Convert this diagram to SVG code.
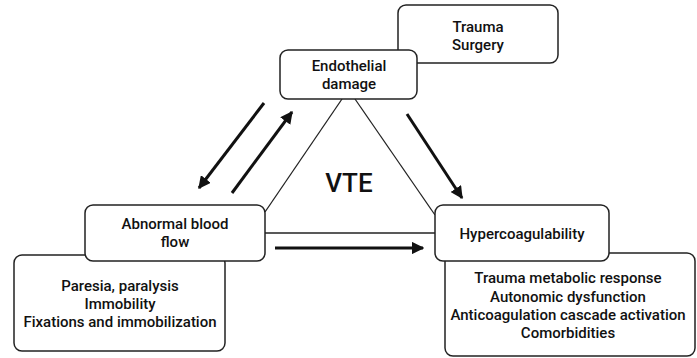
<svg xmlns="http://www.w3.org/2000/svg" width="697" height="358" viewBox="0 0 697 358">
  <defs>
    <marker id="head" viewBox="0 0 10 10" refX="9" refY="5" markerWidth="4.2" markerHeight="4.2" orient="auto" markerUnits="strokeWidth">
      <path d="M0,0 L10,5 L0,10 z" fill="#111"/>
    </marker>
    <style>
      .box { fill: #fff; stroke: #222; stroke-width: 1.5; }
      .edge { stroke: #222; stroke-width: 1.3; fill: none; }
      .arrow { stroke: #111; stroke-width: 3; fill: none; marker-end: url(#head); }
      .lbl { font-family: Roboto, "Liberation Sans", Arial, sans-serif; font-weight: 500; font-size: 15px; fill: #111; text-anchor: middle; }
      .big { font-family: Roboto, "Liberation Sans", Arial, sans-serif; font-weight: 500; font-size: 26px; fill: #111; text-anchor: middle; }
    </style>
  </defs>
  <rect width="697" height="358" fill="#fff"/>

  <!-- triangle edges and causal arrows -->
  <g id="connectors">
    <line class="edge" x1="342" y1="99" x2="265" y2="212"/>
    <line class="edge" x1="355" y1="99" x2="435" y2="215"/>
    <line class="edge" x1="265" y1="233" x2="435" y2="233"/>
    <line class="arrow" x1="264" y1="103" x2="199" y2="188"/>
    <line class="arrow" x1="232" y1="193" x2="292" y2="112"/>
    <line class="arrow" x1="407" y1="114" x2="462" y2="198"/>
    <line class="arrow" x1="275" y1="248" x2="423" y2="248"/>
  </g>

  <text class="big" x="349" y="192">VTE</text>

  <g id="trauma-surgery">
    <rect class="box" x="398" y="5" width="160" height="58" rx="8"/>
    <text class="lbl" x="478" y="32">Trauma</text>
    <text class="lbl" x="478" y="50">Surgery</text>
  </g>

  <g id="endothelial-damage">
    <rect class="box" x="280" y="50" width="137" height="49" rx="8"/>
    <text class="lbl" x="349" y="71">Endothelial</text>
    <text class="lbl" x="349" y="89">damage</text>
  </g>

  <g id="flow-causes">
    <rect class="box" x="14" y="255" width="211" height="96" rx="8"/>
    <text class="lbl" x="120" y="291">Paresia, paralysis</text>
    <text class="lbl" x="120" y="309">Immobility</text>
    <text class="lbl" x="120" y="327">Fixations and immobilization</text>
  </g>

  <g id="abnormal-blood-flow">
    <rect class="box" x="85" y="205" width="180" height="56" rx="8"/>
    <text class="lbl" x="175" y="229">Abnormal blood</text>
    <text class="lbl" x="175" y="247">flow</text>
  </g>

  <g id="coagulation-causes">
    <rect class="box" x="445" y="253" width="250" height="103" rx="8"/>
    <text class="lbl" x="568" y="283">Trauma metabolic response</text>
    <text class="lbl" x="568" y="302">Autonomic dysfunction</text>
    <text class="lbl" x="568" y="320">Anticoagulation cascade activation</text>
    <text class="lbl" x="568" y="338">Comorbidities</text>
  </g>

  <g id="hypercoagulability">
    <rect class="box" x="435" y="205" width="174" height="56" rx="8"/>
    <text class="lbl" x="522" y="239">Hypercoagulability</text>
  </g>
</svg>
